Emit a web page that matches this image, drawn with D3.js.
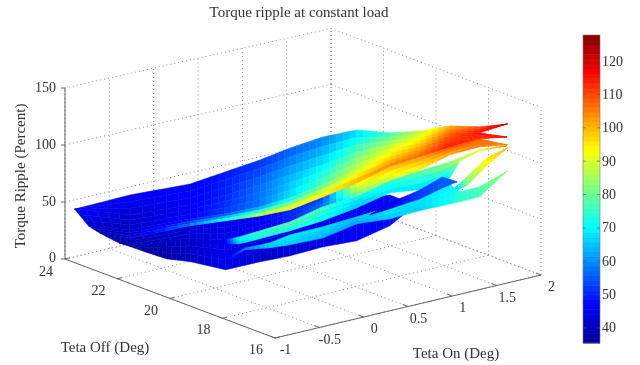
<!DOCTYPE html>
<html><head><meta charset="utf-8">
<script src="https://cdn.jsdelivr.net/npm/d3@7"></script>
<style>html,body{margin:0;padding:0;background:#fff}svg{display:block;filter:blur(.45px)}text{font-family:"Liberation Serif",serif;font-size:14px;fill:#333}.big{font-size:15px}</style>
</head><body><div id="c"></div>
<script>
// Tick labels
const onTicks=[-1,-0.5,0,0.5,1,1.5,2];
const offTicks=[24,22,20,18,16];
const zTicks=[0,50,100,150];
const barTicks=[40,50,60,70,80,90,100,110,120];
// Surface ribbons: Teta On, Teta Off and Torque Ripple values, row by row
const sheetOn=[[-1,-.36,.26,.68,1.10,1.45,1.81,2.01,2.0,1.99,2.02,2.02,1.99],[-1,-.62,-.10,.24,.52,.78,1.07,1.35,1.52,1.64,1.74,1.76,1.99]];
const sheetOff=[[23.63,23.69,23.49,23.58,23.67,23.69,23.68,23.05,21.74,20.57,19.52,18.38,17.24],[23.63,22.80,22.26,22.08,21.69,21.45,21.16,20.83,20.14,19.39,18.59,17.52,17.24]];
const sheetZ=[[47,47,47,49,51,55,58,66,75,87,100,109,122],[47,42,46,50,57,63,69,78,87,95,107,116,122]];
const ridgeOn=[[-1,-.62,-.10,.24,.52,.78,1.07,1.35,1.52,1.64,1.74,1.76,1.89],[-1.11,-.88,-.38,-.16,.09,.26,.51,.81,1.12,1.31,1.49,1.73,1.89],[-1.10,-1.03,-.78,-.76,-.79,-.53,-.11,.28,.74,1.07,1.32,1.73,1.89]];
const ridgeOff=[[23.63,22.80,22.26,22.08,21.69,21.45,21.16,20.83,20.14,19.39,18.59,17.52,16.94],[22.74,21.95,21.32,20.76,20.26,19.67,19.29,19.01,18.77,18.26,17.74,17.41,16.94],[22.34,21.45,19.97,18.70,17.29,17.02,17.19,17.21,17.51,17.48,17.16,17.43,16.94]];
const ridgeZ=[[47,42,46,50,57,63,69,78,87,95,107,116,115],[42,41,47,52,58,68,78,88,96,103,112,114,115],[39,41,60,75,92,95,97,102,105,108,115,112,115]];
const underOn=[[-1.10,-1.03,-.43,-.14,.15,.41,.84,.43,.85,1.18,1.42,1.82,1.96],[-1.13,-1.01,-.63,-.49,-.08,.19,.53,.53,.84,1.15,1.48,1.73,1.96]];
const underOff=[[22.34,21.45,21.18,20.83,20.48,20.20,20.38,17.71,17.86,17.83,17.51,17.71,17.15],[21.50,20.94,20.50,19.65,19.69,19.45,19.34,18.04,17.84,17.73,17.72,17.43,17.15]];
const underZ=[[39,41,43,45,47,50,52,95,100,103,110,108,105],[38,39,42,45,45,50,58,78,88,93,100,105,105]];
const baseOn=[[-1.13,-1.01,-.81,-.63,-.49,-.12,.21,.78,1.14,1.42,1.37],[-1.08,-1.09,-1.07,-1.04,-1.03,-.56,-.27,.09,.39,.85,1.24]];
const baseOff=[[21.50,20.94,20.79,20.50,19.65,19.55,19.53,20.19,20.12,19.80,18.87],[21.64,20.64,19.88,19.08,17.78,18.05,17.91,17.84,17.58,17.88,18.44]];
const baseZ=[[38,39,40,42,45,47,49,46,46,48,50],[36,37,37,41,45,41,42,44,46,48,50]];
const greenOn=[[-.68,-.49,-.96,-.71,-.42,.12,.70,1.11,1.40,1.67,1.75,1.89,1.94],[-.68,-.56,-.88,-.82,-.46,-.01,.60,1.04,1.35,1.73,1.76,1.93,1.94]];
const greenOff=[[20.33,19.65,17.49,17.57,17.40,17.99,18.61,18.76,18.59,18.35,18.24,17.95,17.09],[20.33,19.40,17.77,17.22,17.27,17.55,18.28,18.51,18.40,18.56,18.27,18.10,17.09]];
const greenZ=[[40,45,75,75,79,77,70,75,80,85,88,95,105],[40,45,65,73,73,71,65,68,66,68,85,92,105]];
const cyanOn=[[-.82,-.81,-.71,-.47,-.05,.41,.74,1.14,1.56,1.42,1.56,1.92],[-.84,-.80,-.76,-.57,-.17,.37,.60,.96,1.17,1.23,1.42,1.92]];
const cyanOff=[[18.58,17.79,17.17,17.23,17.39,17.65,17.50,17.70,17.98,17.12,16.86,17.01],[18.52,17.81,17.01,16.90,16.98,17.50,17.04,17.10,16.66,16.50,16.38,17.01]];
const cyanZ=[[42,60,68,70,68,66,70,68,70,74,78,84],[42,58,66,66,64,62,66,66,72,74,76,84]];
const blueOn=[[1.00,1.32,1.64,1.97,1.98],[1.00,1.21,1.47,1.77,1.98]];
const blueOff=[[19.14,19.45,19.39,19.65,19.13],[19.14,19.08,18.83,18.96,19.13]];
const blueZ=[[44,46,52,55,55],[44,46,52,55,55]];
const orangeOn=[[1.67,1.51,1.77,2.01],[1.74,1.45,1.70,2.01]];
const orangeOff=[[18.29,17.17,17.28,17.31],[18.52,16.97,17.06,17.31]];
const orangeZ=[[60,85,96,100],[55,80,92,100]];

const W=640,H=365;
const svg=d3.select("#c").append("svg").attr("width",W).attr("height",H);
const ox=65,oy=259;
const onX=d3.scaleLinear([-1,2],[0,266]), onY=d3.scaleLinear([-1,2],[0,-63]);
const offX=d3.scaleLinear([24,16],[0,210]), offY=d3.scaleLinear([24,16],[0,79]);
const zY=d3.scaleLinear([0,150],[0,-171]);
const depth=d3.scaleLinear([-1,2],[1,.98]);
const P=(on,off,z)=>[ox+onX(on)+offX(off), oy+onY(on)+offY(off)+zY(z)];
const G=(on,off,z)=>P(on,off,z*depth(on));
const jetStops=[35.5,47,70.5,93.5,116.5,127.8];
const jet=d3.scaleLinear(jetStops,["rgb(0,0,143)","rgb(0,0,255)","rgb(0,255,255)","rgb(255,255,0)","rgb(255,0,0)","rgb(128,0,0)"]).clamp(true);

const grid=svg.append("g").attr("fill","none").attr("stroke","#8a8a8a").attr("stroke-width",1).attr("stroke-dasharray","1 3");
const seg=(g,a,b)=>g.append("line").attr("x1",a[0]).attr("y1",a[1]).attr("x2",b[0]).attr("y2",b[1]);
onTicks.forEach(t=>{seg(grid,G(t,16,0),G(t,24,0));seg(grid,G(t,24,0),G(t,24,150));});
offTicks.forEach(t=>{seg(grid,G(-1,t,0),G(2,t,0));seg(grid,G(2,t,0),G(2,t,150));});
zTicks.forEach(t=>{seg(grid,G(-1,24,t),G(2,24,t));seg(grid,G(2,24,t),G(2,16,t));});

// axes
const ax=svg.append("g").attr("stroke","#666").attr("stroke-width",1).attr("fill","none");
seg(ax,P(-1,24,0),P(-1,24,150));
seg(ax,P(-1,24,0),P(-1,16,0));
seg(ax,P(-1,16,0),P(2,16,0));
zTicks.forEach(t=>{const p=P(-1,24,t);seg(ax,p,[p[0]-4,p[1]]);});
onTicks.forEach(t=>seg(ax,P(t,16,0),P(t,16.2,0)));
offTicks.forEach(t=>seg(ax,P(-1,t,0),P(-.95,t,0)));
const lab=svg.append("g");
zTicks.forEach(t=>{const p=P(-1,24,t);lab.append("text").attr("x",p[0]-9).attr("y",p[1]+(t===0?3:4)).attr("text-anchor","end").text(t);});
onTicks.forEach(t=>{const p=P(t,16,0);lab.append("text").attr("x",p[0]+10.5).attr("y",p[1]+16).attr("text-anchor","middle").text(t);});
offTicks.forEach(t=>{const p=P(-1,t,0);lab.append("text").attr("x",p[0]-19).attr("y",p[1]+(t===24?17:16)).attr("text-anchor","middle").text(t);});
lab.append("text").attr("class","big").attr("x",299).attr("y",17).attr("text-anchor","middle").text("Torque ripple at constant load");
lab.append("text").attr("class","big").attr("x",105).attr("y",352).attr("text-anchor","middle").text("Teta Off (Deg)");
lab.append("text").attr("class","big").attr("x",456).attr("y",358).attr("text-anchor","middle").text("Teta On (Deg)");
lab.append("text").attr("class","big").attr("transform","translate(25,176) rotate(-90)").attr("text-anchor","middle").text("Torque Ripple (Percent)");

// surface
const surf=svg.append("g");
const NS=5;
function ribbon(on,off,z){
  for(let r=0;r<on.length-1;r++)for(let c=0;c<on[r].length-1;c++){
    const bi=(m,s,t)=>(m[r][c]*(1-s)+m[r][c+1]*s)*(1-t)+(m[r+1][c]*(1-s)+m[r+1][c+1]*s)*t;
    for(let i=0;i<NS;i++)for(let j=0;j<3;j++){
      const s0=i/NS,s1=(i+1)/NS,t0=j/3,t1=(j+1)/3;
      const pt=(s,t)=>P(bi(on,s,t),bi(off,s,t),bi(z,s,t));
      const col=jet(bi(z,(s0+s1)/2,(t0+t1)/2));
      surf.append("path").attr("d","M"+[pt(s0,t0),pt(s1,t0),pt(s1,t1),pt(s0,t1)].map(p=>p[0].toFixed(2)+","+p[1].toFixed(2)).join("L")+"Z")
        .attr("fill",col).attr("stroke",col).attr("stroke-width",.5);
    }
  }
}
ribbon(baseOn,baseOff,baseZ);
ribbon(underOn,underOff,underZ);
ribbon(sheetOn,sheetOff,sheetZ);
ribbon(ridgeOn,ridgeOff,ridgeZ);
ribbon(greenOn,greenOff,greenZ);
ribbon(orangeOn,orangeOff,orangeZ);
ribbon(cyanOn,cyanOff,cyanZ);
ribbon(blueOn,blueOff,blueZ);

// colorbar
const barY=d3.scaleLinear([35.5,127.8],[343,35]);
const bar=svg.append("g");
const levels=d3.range(64).map(i=>35.5+(127.8-35.5)*i/64);
bar.selectAll("rect").data(levels).join("rect").attr("x",583).attr("width",17)
  .attr("y",d=>barY(d+(127.8-35.5)/64)).attr("height",barY(35.5)-barY(35.5+(127.8-35.5)/64)+.5)
  .attr("fill",d=>jet(d+(127.8-35.5)/128));
bar.append("rect").attr("x",583).attr("y",35).attr("width",17).attr("height",308).attr("fill","none").attr("stroke","#777").attr("stroke-width",.6);
barTicks.forEach(t=>{const y=barY(t);
  bar.append("line").attr("x1",583).attr("x2",586).attr("y1",y).attr("y2",y).attr("stroke","#555").attr("stroke-width",.6);
  bar.append("line").attr("x1",597).attr("x2",600).attr("y1",y).attr("y2",y).attr("stroke","#555").attr("stroke-width",.6);
  bar.append("text").attr("x",602).attr("y",y+4.5).text(t);
});
</script></body></html>
